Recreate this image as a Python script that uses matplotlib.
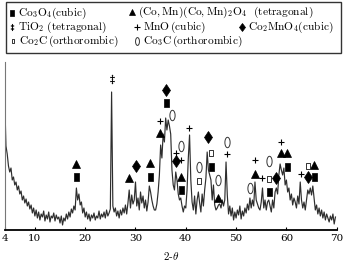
import matplotlib.pyplot as plt
import numpy as np
from matplotlib.path import Path
from matplotlib.patches import Rectangle

plt.rcParams['mathtext.fontset'] = 'cm'
plt.rcParams['font.family'] = 'DejaVu Serif'

# XRD pattern, 2-theta from 4.0 to 69.75 in 0.25 steps (arbitrary intensity)
intensity = [
    132, 84, 76, 64, 58, 62, 50, 53, 45, 48, 40, 44, 36, 39, 30, 34, 27, 31, 24, 28,   # 4-8.75
    21, 25, 17, 22, 14, 20, 12, 18, 10, 16, 13, 19, 9, 15, 11, 18, 8, 14, 12, 17,      # 9-13.75
    9, 15, 11, 13, 7, 14, 5, 12, 9, 16, 11, 18, 13, 21, 17, 24, 20, 42, 30, 36,        # 14-18.75
    25, 28, 17, 22, 13, 18, 11, 16, 9, 15, 12, 17, 10, 14, 12, 19, 11, 16, 13, 18,     # 19-23.75
    12, 20, 14, 17, 21, 138, 24, 18, 22, 14, 19, 12, 20, 15, 22, 17, 25, 16, 27, 40,   # 24-28.75
    22, 35, 26, 30, 48, 24, 32, 20, 38, 27, 34, 22, 30, 19, 28, 44, 38, 30, 24, 20,    # 29-33.75
    20, 26, 38, 55, 85, 72, 96, 88, 112, 100, 110, 104, 96, 60, 45, 40, 58, 50, 36, 30,  # 34-38.75
    32, 24, 18, 24, 22, 40, 72, 95, 50, 28, 20, 34, 16, 30, 38, 27, 18, 36, 24, 40,    # 39-43.75
    52, 78, 60, 55, 50, 30, 45, 25, 20, 22, 25, 26, 22, 30, 24, 30, 68, 35, 16, 24,    # 44-48.75
    14, 22, 10, 18, 12, 20, 15, 24, 11, 19, 14, 22, 17, 26, 20, 32, 22, 30, 24, 48,    # 49-53.75
    30, 26, 22, 20, 28, 42, 22, 30, 20, 28, 30, 24, 18, 30, 22, 38, 42, 36, 55, 66,    # 54-58.75
    60, 55, 62, 45, 50, 38, 42, 30, 36, 25, 32, 28, 22, 34, 26, 48, 30, 22, 28, 20,    # 59-63.75
    30, 40, 36, 42, 35, 44, 32, 20, 25, 16, 22, 14, 20, 12, 18, 10, 16, 12, 8, 14,     # 64-68.75
    10, 16, 6, 13,                                                                     # 69-69.75
]
two_theta = np.linspace(4.0, 69.75, len(intensity))

# peak assignments: (2-theta, marker height)
co3o4 = [(18.26, 53), (32.91, 53), (36.08, 127), (39.05, 40), (44.99, 63),
         (56.53, 38), (60.16, 63), (65.45, 53)]
spinel = [(18.26, 66), (28.67, 52), (32.91, 67), (34.95, 97), (39.05, 53),
          (46.45, 32), (53.82, 56), (58.85, 77), (60.16, 77), (65.45, 65)]
tio2 = [(25.39, 151)]
mno = [(34.95, 109), (38.06, 77), (39.05, 70), (40.69, 102), (48.16, 76),
       (53.82, 70), (55.21, 52), (58.85, 88), (62.81, 56)]
co2mno4 = [(30.14, 64), (36.08, 140), (38.06, 69), (44.32, 93), (58.02, 52), (64.32, 53)]
co2c = [(42.53, 49), (44.99, 77), (56.53, 51), (64.32, 64)]
co3c = [(37.19, 115), (39.05, 84), (42.53, 63), (46.45, 50), (48.16, 88),
        (52.77, 42), (56.53, 69)]

ticks = [4, 10, 20, 30, 40, 50, 60, 70]

# marker shapes
rect = Path([(-0.6, -1), (0.6, -1), (0.6, 1), (-0.6, 1), (-0.6, -1)],
            [1, 2, 2, 2, 79])
a = np.linspace(0, 2 * np.pi, 40)
ell = Path(np.column_stack([0.5 * np.cos(a), np.sin(a)]))

styles = {
    'co3o4': dict(marker=rect, ms=6, mfc='black', mec='black', mew=0.5),
    'spinel': dict(marker='^', ms=6, mfc='black', mec='black', mew=0.5),
    'tio2': dict(marker=r'$\ddagger$', ms=6.5, mfc='black', mec='black', mew=0.3),
    'mno': dict(marker='+', ms=5, mfc='none', mec='black', mew=0.8),
    'co2mno4': dict(marker='d', ms=6, mfc='black', mec='black', mew=0.5),
    'co2c': dict(marker=rect, ms=4.5, mfc='none', mec='#333333', mew=0.7),
    'co3c': dict(marker=ell, ms=7.5, mfc='none', mec='#333333', mew=0.7),
}

fig = plt.figure(figsize=(3.43, 2.63), dpi=100)
ax = fig.add_axes([4.7 / 343, 33 / 263, 332 / 343, 168 / 263])
ax.plot(two_theta, intensity, color='#2e2e2e', lw=0.85)

for key, pts in [('co3o4', co3o4), ('spinel', spinel), ('tio2', tio2), ('mno', mno),
                 ('co2mno4', co2mno4), ('co2c', co2c), ('co3c', co3c)]:
    xs, ys = zip(*pts)
    ax.plot(xs, ys, ls='none', **styles[key])

ax.set_xlim(4, 70)
ax.set_ylim(0, 168)
ax.set_xticks(ticks)
ax.set_xticklabels([str(t) for t in ticks], fontsize=7.5)
ax.set_yticks([])
ax.tick_params(axis='x', direction='in', length=2, width=0.8, pad=3)
ax.spines['top'].set_visible(False)
ax.spines['right'].set_visible(False)
ax.spines['left'].set_color('#777777')
ax.spines['left'].set_linewidth(0.8)
ax.spines['bottom'].set_linewidth(1.3)
ax.set_xlabel(r'$2\text{-}\theta$', fontsize=8, labelpad=5)

# legend box drawn in pixel coordinates
lg = fig.add_axes([0, 0, 1, 1], facecolor='none')
lg.set_xlim(0, 343)
lg.set_ylim(263, 0)
lg.axis('off')
lg.add_patch(Rectangle((6, 2), 335, 51, fill=False, ec='#333333', lw=1))

entries = [
    ('co3o4', 12, 13, r'$\mathrm{Co_3O_4(cubic)}$'),
    ('spinel', 132, 12, r'$\mathrm{(Co,Mn)(Co,Mn)_2O_4\ \ (tetragonal)}$'),
    ('tio2', 12, 27, r'$\mathrm{TiO_2\ (tetragonal)}$'),
    ('mno', 137, 27, r'$\mathrm{MnO\,(cubic)}$'),
    ('co2mno4', 242, 27, r'$\mathrm{Co_2MnO_4(cubic)}$'),
    ('co2c', 13, 41, r'$\mathrm{Co_2C\,(orthorombic)}$'),
    ('co3c', 137, 41, r'$\mathrm{Co_3C\,(orthorombic)}$'),
]
for key, mx, my, label in entries:
    st = dict(styles[key])
    st['ms'] = st['ms'] * 0.75
    lg.plot([mx], [my], ls='none', **st)
    lg.text(mx + 6, my, label, fontsize=8.2, va='center', ha='left')

fig.savefig('out.png', dpi=100)
